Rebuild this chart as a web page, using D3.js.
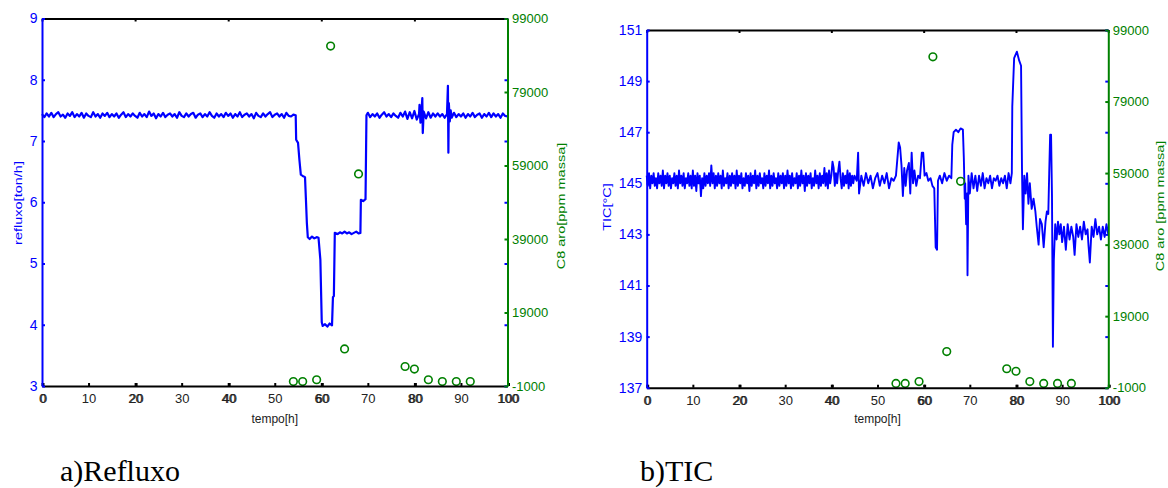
<!DOCTYPE html>
<html>
<head>
<meta charset="utf-8">
<script src="https://cdn.jsdelivr.net/npm/d3@7"></script>
<style>
  body { margin: 0; background: #fff; }
  svg { display: block; }
  text { font-family: "Liberation Sans", Arial, Helvetica, sans-serif; }
</style>
</head>
<body>
<svg id="fig" width="1168" height="488"></svg>
<script>
// ---- axis ticks ----
const hourTicks = [0, 10, 20, 30, 40, 50, 60, 70, 80, 90, 100];
const hourTicksMajor = [0, 20, 40, 60, 80, 100];
const refluxoTicks = [3, 4, 5, 6, 7, 8, 9];
const ticTicks = [137, 139, 141, 143, 145, 147, 149, 151];
const c8Ticks = [-1000, 19000, 39000, 59000, 79000, 99000];

// ---- C8 aromatics lab samples [ppm massa] ----
const c8Time  = [54, 56, 59, 62, 65, 68, 78, 80, 83, 86, 89, 92];
const c8Value = [200, 200, 700, 91500, 9100, 56700, 4300, 3600, 700, 200, 200, 200];

// ---- reflux flow [ton/h] ----
const refluxoTime = [
  0,0.5,1,1.5,2,2.5,3,3.5,4,4.5,5,5.5,6,6.5,7,7.5,8,8.5,9,9.5,
  10,10.5,11,11.5,12,12.5,13,13.5,14,14.5,15,15.5,16,16.5,17,17.5,18,18.5,19,19.5,
  20,20.5,21,21.5,22,22.5,23,23.5,24,24.5,25,25.5,26,26.5,27,27.5,28,28.5,29,29.5,
  30,30.5,31,31.5,32,32.5,33,33.5,34,34.5,35,35.5,36,36.5,37,37.5,38,38.5,39,39.5,
  40,40.5,41,41.5,42,42.5,43,43.5,44,44.5,45,45.5,46,46.5,47,47.5,48,48.5,49,49.5,
  50,50.5,51,51.5,52,52.5,53,53.5,54,
  54.5,54.6,55,55.3,55.6,56,56.5,56.7,56.9,57.1,57.5,58,58.5,59,59.4,59.8,
  60.1,60.3,60.8,61.3,61.8,62.3,62.5,62.7,62.9,63.5,64,64.5,65,65.5,66,66.5,
  67,67.5,68,68.4,68.5,69,69.5,69.7,
  70,70.5,71,71.5,72,72.5,73,73.5,74,74.5,75,75.5,76,76.5,77,77.5,78,78.5,79,79.5,80,80.5,
  81,81.1,81.3,81.5,81.7,81.8,82,82.5,83,83.5,84,84.5,85,85.5,86,86.5,87,
  87.2,87.3,87.4,87.6,87.8,88,
  88.5,89,89.5,90,90.5,91,91.5,92,92.5,93,93.5,94,94.5,95,95.5,96,96.5,97,97.5,98,98.5,99,99.5,100
];
const refluxoValue = [
  7.44,7.39,7.45,7.40,7.46,7.39,7.44,7.47,7.40,7.43,7.38,7.45,7.41,7.47,7.39,7.44,7.40,7.46,7.38,7.45,
  7.41,7.39,7.47,7.40,7.44,7.38,7.45,7.41,7.46,7.39,7.44,7.40,7.45,7.38,7.43,7.47,7.39,7.44,7.40,7.45,
  7.41,7.38,7.46,7.40,7.44,7.39,7.48,7.41,7.45,7.37,7.44,7.40,7.46,7.39,7.43,7.45,7.40,7.44,7.38,7.47,
  7.41,7.39,7.45,7.40,7.44,7.46,7.38,7.43,7.45,7.39,7.44,7.40,7.47,7.41,7.38,7.45,7.40,7.44,7.39,7.46,
  7.41,7.45,7.38,7.44,7.40,7.47,7.39,7.43,7.45,7.40,7.44,7.37,7.46,7.41,7.39,7.45,7.40,7.44,7.47,7.39,
  7.43,7.45,7.40,7.44,7.38,7.46,7.41,7.40,7.43,
  7.42,7.02,6.97,6.69,6.45,6.43,6.41,6.04,5.66,5.43,5.40,5.44,5.41,5.43,5.42,5.06,
  4.04,3.98,4.01,3.97,4.02,3.99,4.45,4.47,5.50,5.48,5.51,5.49,5.52,5.49,5.51,5.48,
  5.50,5.52,5.49,5.50,6.04,6.02,6.05,7.42,
  7.46,7.39,7.44,7.40,7.45,7.38,7.43,7.47,7.40,7.44,7.39,7.45,7.41,7.38,7.46,7.40,7.48,7.36,7.47,7.37,7.49,7.35,
  7.44,7.59,7.30,7.46,7.70,7.13,7.48,7.37,7.47,7.38,7.45,7.40,7.45,7.40,7.44,7.38,7.44,
  7.90,6.81,7.62,7.32,7.50,7.38,
  7.46,7.39,7.44,7.40,7.45,7.38,7.44,7.40,7.46,7.39,7.43,7.45,7.38,7.44,7.40,7.46,7.39,7.45,7.40,7.44,7.38,7.45,7.41,7.40
];

// ---- column top temperature TIC [°C] ----
const ticTime = [
  0,0.25,0.5,0.75,1,1.25,1.5,1.75,2,2.25,2.5,2.75,3,3.25,3.5,3.75,4,4.25,4.5,4.75,
  5,5.25,5.5,5.75,6,6.25,6.5,6.75,7,7.25,7.5,7.75,8,8.25,8.5,8.75,9,9.25,9.5,9.75,
  10,10.25,10.5,10.75,11,11.25,11.5,11.75,12,12.25,12.5,12.75,13,13.25,13.5,13.75,14,14.25,14.5,14.75,
  15,15.25,15.5,15.75,16,16.25,16.5,16.75,17,17.25,17.5,17.75,18,18.25,18.5,18.75,19,19.25,19.5,19.75,
  20,20.25,20.5,20.75,21,21.25,21.5,21.75,22,22.25,22.5,22.75,23,23.25,23.5,23.75,24,24.25,24.5,24.75,
  25,25.25,25.5,25.75,26,26.25,26.5,26.75,27,27.25,27.5,27.75,28,28.25,28.5,28.75,29,29.25,29.5,29.75,
  30,30.25,30.5,30.75,31,31.25,31.5,31.75,32,32.25,32.5,32.75,33,33.25,33.5,33.75,34,34.25,34.5,34.75,
  35,35.25,35.5,35.75,36,36.25,36.5,36.75,37,37.25,37.5,37.75,38,38.25,38.5,38.75,39,39.25,39.5,39.75,
  40,40.25,40.5,40.75,41,41.25,41.5,41.75,42,42.25,42.5,42.75,43,43.25,43.5,43.75,44,44.25,44.5,44.75,
  45,
  45.5,45.8,46,46.5,47,47.5,48,48.5,49,49.5,50,50.5,51,51.5,52,52.5,53,53.5,54,
  54.6,54.9,55.2,55.5,55.8,56.1,56.4,56.8,57.1,57.4,57.7,58,58.4,58.8,59.2,59.6,59.9,
  60.2,60.6,61,61.5,61.9,62.3,62.6,62.9,63.1,63.5,64,64.5,65,65.5,66,66.2,66.5,
  67,67.5,68,68.5,68.7,68.9,69,69.2,69.4,69.5,69.7,
  70,70.4,70.8,71.2,71.6,72,72.4,72.8,73.2,73.6,74,74.4,74.8,75.2,75.6,76,76.4,76.8,77.2,77.6,78,78.4,78.8,79.1,
  79.2,79.6,80.2,80.7,81.1,81.3,81.5,81.8,82.1,82.4,82.7,83,83.4,83.8,84.2,84.5,84.9,85.2,85.6,
  86,86.4,86.7,87,87.2,87.4,87.6,87.8,88,88.2,88.5,88.8,89.1,89.4,89.7,90,90.4,90.8,91.2,91.6,
  92,92.4,92.7,93.1,93.5,93.9,94.3,94.7,95.1,95.5,95.7,96,96.4,96.8,97.2,97.6,98,98.4,98.8,99.2,99.6,100
];
const ticValue = [
  145.3,144.9,145.4,144.8,145.3,145.0,145.4,144.9,145.2,144.8,145.4,145.0,145.3,144.9,145.5,144.8,145.3,145.0,145.4,144.9,
  145.3,144.8,145.2,145.0,145.4,144.9,145.3,144.8,145.5,145.0,145.3,144.9,145.4,144.8,145.2,145.0,145.4,144.9,145.3,144.8,
  145.5,144.9,145.3,144.7,145.4,145.0,145.3,144.5,145.2,144.8,145.4,144.9,145.3,145.0,145.4,144.9,145.7,145.0,145.4,144.8,
  145.3,144.9,145.4,145.0,145.3,144.8,145.5,144.9,145.2,145.0,145.4,144.8,145.3,144.9,145.4,145.0,145.3,144.8,145.5,144.9,
  145.3,145.0,145.4,144.8,145.2,144.9,145.4,145.0,145.3,144.7,145.4,144.9,145.3,145.0,145.5,144.8,145.3,144.9,145.4,145.0,
  145.2,144.8,145.4,144.9,145.3,145.0,145.5,144.8,145.3,144.9,145.4,145.0,145.2,144.8,145.4,144.9,145.3,145.0,145.4,144.8,
  145.3,144.9,145.5,145.0,145.3,144.8,145.4,144.9,145.2,145.0,145.4,144.8,145.3,144.9,145.5,145.0,145.3,144.7,145.4,144.9,
  145.3,145.0,145.4,144.8,145.2,144.9,145.5,145.0,145.3,144.8,145.4,144.9,145.3,145.0,145.6,144.9,145.4,144.8,145.5,145.0,
  145.3,145.85,145.6,144.9,145.4,145.0,145.5,145.85,145.2,144.8,145.4,144.9,145.3,145.0,145.5,144.8,145.4,144.9,145.3,145.0,
  145.3,
  145.1,146.2,144.6,145.3,144.9,145.4,145.0,145.3,144.8,145.2,145.4,144.9,145.3,145.0,145.4,144.8,145.2,145.1,145.3,
  146.6,146.4,145.7,144.5,145.6,144.9,145.5,145.8,144.6,146.2,145.0,145.5,144.9,145.3,145.2,146.2,146.2,
  145.3,145.4,145.1,145.2,144.9,144.8,142.5,142.4,145.1,145.3,145.0,145.4,145.1,145.3,145.2,146.5,147.0,
  147.1,147.0,147.15,147.1,146.0,144.4,145.0,143.4,144.6,141.4,145.3,
  144.6,145.4,144.8,145.3,144.7,145.3,144.9,145.4,144.8,145.2,145.0,145.3,144.8,145.2,145.1,145.3,144.9,145.2,145.0,145.3,144.8,145.4,145.0,145.4,
  148.0,149.9,150.15,149.8,149.6,145.6,143.2,145.3,144.6,145.4,144.2,145.0,144.0,144.4,143.9,143.3,142.6,143.6,143.4,142.5,
  143.5,143.9,143.8,145.4,146.9,146.9,144.5,138.6,142.0,143.4,142.8,143.5,143.0,143.4,142.7,143.3,142.4,143.4,142.8,143.3,
  142.9,142.2,143.4,142.9,143.3,142.8,143.5,143.0,143.2,142.6,141.9,143.3,142.9,143.6,143.0,143.3,142.8,143.3,142.9,143.4,143.0,143.2
];

const BLUE = "#0000ff";
const GREEN = "#008000";

const svg = d3.select("#fig");

// plain integer labels with an ASCII hyphen for negatives
const plainInt = d => String(Math.round(d));

function drawPanel(cfg) {
  const g = svg.append("g");
  const x = d3.scaleLinear().domain([0, 100]).range([cfg.left, cfg.right]);
  const yL = d3.scaleLinear().domain(cfg.leftDomain).range([cfg.bottom, cfg.top]);
  const yR = d3.scaleLinear().domain([-1000, 99000]).range([cfg.bottom, cfg.top]);

  // process variable
  const idx = d3.range(cfg.time.length);
  const line = d3.line().x(i => x(cfg.time[i])).y(i => yL(cfg.value[i]));
  g.append("path")
    .attr("d", line(idx))
    .attr("fill", "none")
    .attr("stroke", BLUE)
    .attr("stroke-width", cfg.lineWidth)
    .attr("stroke-linejoin", "round");

  // lab samples
  g.selectAll("circle.c8")
    .data(c8Time)
    .join("circle")
    .attr("class", "c8")
    .attr("cx", d => x(d))
    .attr("cy", (d, i) => yR(c8Value[i]))
    .attr("r", 3.8)
    .attr("fill", "none")
    .attr("stroke", GREEN)
    .attr("stroke-width", 1.6);

  const styleAxis = (sel, color, fontSize) => {
    sel.select(".domain").attr("stroke", color).attr("stroke-width", 2);
    sel.selectAll(".tick line").attr("stroke", color).attr("stroke-width", 2);
    sel.selectAll(".tick text").attr("fill", color).style("font-size", fontSize + "px")
      .style("font-family", '"Liberation Sans", Arial, sans-serif');
  };

  // top box edge
  g.append("g").attr("transform", `translate(0,${cfg.top})`)
    .call(d3.axisTop(x).tickValues(hourTicksMajor).tickSize(-3).tickSizeOuter(0).tickFormat(""))
    .call(s => styleAxis(s, "#000", 13));

  // bottom time axis (two overlaid axes)
  g.append("g").attr("transform", `translate(0,${cfg.bottom})`)
    .call(d3.axisBottom(x).tickValues(hourTicks).tickSize(-3).tickSizeOuter(0).tickPadding(8))
    .call(s => styleAxis(s, "#000", 13))
    .call(s => s.selectAll(".tick text").attr("fill", "#222"));
  g.append("g").attr("transform", `translate(1,${cfg.bottom})`)
    .call(d3.axisBottom(x).tickValues(hourTicksMajor).tickSize(-3).tickSizeOuter(0).tickPadding(8))
    .call(s => styleAxis(s, "#000", 13))
    .call(s => s.select(".domain").remove())
    .call(s => s.selectAll(".tick text").attr("fill", "#222"));

  // left axis (process variable)
  g.append("g").attr("transform", `translate(${cfg.left},0)`)
    .call(d3.axisLeft(yL).tickValues(cfg.leftTicks).tickSize(-3).tickSizeOuter(0).tickPadding(4.5)
      .tickFormat(plainInt))
    .call(s => styleAxis(s, BLUE, 14));

  // mirrored process-variable ticks on the right edge
  g.append("g").attr("transform", `translate(${cfg.right},0)`)
    .call(d3.axisRight(yL).tickValues(cfg.leftTicks).tickSize(-3).tickSizeOuter(0).tickFormat(""))
    .call(s => styleAxis(s, BLUE, 13))
    .call(s => s.select(".domain").remove());

  // right axis (C8 aromatics)
  g.append("g").attr("transform", `translate(${cfg.right},0)`)
    .call(d3.axisRight(yR).tickValues(c8Ticks).tickSize(-3).tickSizeOuter(0).tickPadding(4.5)
      .tickFormat(plainInt))
    .call(s => styleAxis(s, GREEN, 13));

  // axis titles (rotated, slightly condensed across the glyph height)
  g.append("text")
    .attr("transform", `translate(${cfg.leftLabelX},${cfg.leftLabelY}) rotate(-90) scale(1,0.78)`)
    .attr("text-anchor", "middle").attr("fill", BLUE).style("font-size", "14.5px")
    .text(cfg.leftLabel);
  g.append("text")
    .attr("transform", `translate(${cfg.rightLabelX},${cfg.rightLabelY}) rotate(-90) scale(1,0.78)`)
    .attr("text-anchor", "middle").attr("fill", GREEN).style("font-size", "14.5px")
    .text(cfg.rightLabel);
  g.append("text")
    .attr("x", (cfg.left + cfg.right) / 2).attr("y", 423)
    .attr("text-anchor", "middle").attr("fill", "#222").style("font-size", "12px")
    .text("tempo[h]");

  // caption
  g.append("text")
    .attr("x", cfg.captionX).attr("y", 481)
    .attr("fill", "#000")
    .style("font-family", '"Liberation Serif", "Times New Roman", serif')
    .style("font-size", "30px")
    .text(cfg.caption);
}

drawPanel({
  left: 42, right: 507.5, top: 18.5, bottom: 386,
  leftDomain: [3, 9], leftTicks: refluxoTicks, lineWidth: 2.2,
  time: refluxoTime, value: refluxoValue,
  leftLabel: "refluxo[ton/h]", leftLabelX: 22, leftLabelY: 203,
  rightLabel: "C8 aro[ppm massa]", rightLabelX: 565, rightLabelY: 206,
  caption: "a)Refluxo", captionX: 60
});

drawPanel({
  left: 646.7, right: 1108.3, top: 30, bottom: 387.7,
  leftDomain: [137, 151], leftTicks: ticTicks, lineWidth: 1.9,
  time: ticTime, value: ticValue,
  leftLabel: "TIC[°C]", leftLabelX: 611, leftLabelY: 207,
  rightLabel: "C8 aro [ppm massa]", rightLabelX: 1164, rightLabelY: 206,
  caption: "b)TIC", captionX: 640
});
</script>
</body>
</html>
